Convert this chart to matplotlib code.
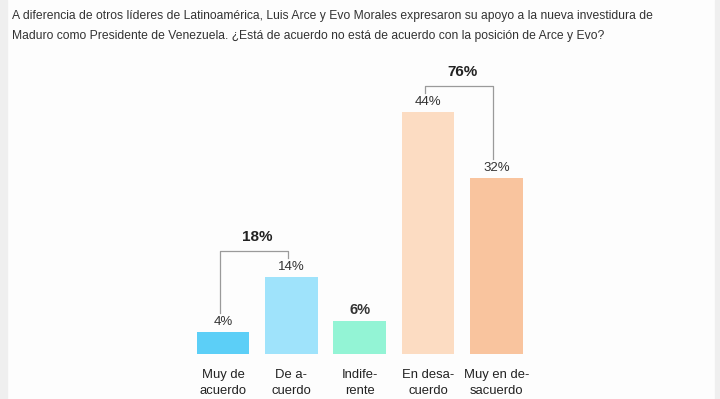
import matplotlib
matplotlib.use("Agg")
import matplotlib.pyplot as plt
from matplotlib.patches import Rectangle
from matplotlib import font_manager

plt.rcParams['font.family'] = ['Liberation Sans', 'DejaVu Sans']

title = ("A diferencia de otros líderes de Latinoamérica, Luis Arce y Evo Morales expresaron su apoyo a la nueva investidura de\n"
         "Maduro como Presidente de Venezuela. ¿Está de acuerdo no está de acuerdo con la posición de Arce y Evo?")
categories = ["Muy de\nacuerdo", "De a-\ncuerdo", "Indife-\nrente", "En desa-\ncuerdo", "Muy en de-\nsacuerdo"]
values = [4, 14, 6, 44, 32]
value_labels = ["4%", "14%", "6%", "44%", "32%"]
colors = ["#5ccff7", "#9fe3fb", "#93f4d5", "#fcdcc2", "#f9c49e"]
groups = [(0, 1, "18%"), (3, 4, "76%")]

names = {f.name for f in font_manager.fontManager.ttflist}
if "Liberation Sans Narrow" in names:
    cat_family, cat_size, cat_ls = ["Liberation Sans Narrow", "Liberation Sans"], 10.3, 1.2
else:
    cat_family, cat_size, cat_ls = ["Liberation Sans", "DejaVu Sans"], 9.4, 1.5

W, H = 720, 399
fig = plt.figure(figsize=(W / 100, H / 100), dpi=100)
fig.patch.set_facecolor("#fdfdfd")
fig.add_artist(Rectangle((0, 0), 7 / W, 1, transform=fig.transFigure, color="#efefef", zorder=0))
fig.add_artist(Rectangle((1 - 5 / W, 0), 5 / W, 1, transform=fig.transFigure, color="#efefef", zorder=0))

fig.text(12 / W, 1 - 10 / H, title, ha="left", va="top", fontsize=8.75, color="#333333", linespacing=1.9)

step = 68.375
left_px = 223 - 0.5 * step
ax = fig.add_axes([left_px / W, (H - 354) / H, 5 * step / W, 275 / H])
ax.set_xlim(-0.5, 4.5)
ax.set_ylim(0, 50)
ax.axis("off")

x = list(range(len(values)))
ax.bar(x, values, width=0.77, color=colors, zorder=2)

for i, (v, lab) in enumerate(zip(values, value_labels)):
    bold = (i == 2)
    ax.annotate(lab, (i, v), xytext=(0, 3), textcoords="offset points",
                ha="center", va="bottom", fontsize=10.5 if bold else 9.5,
                fontweight="bold" if bold else "normal", color="#333333")
    ax.annotate(categories[i], (i, 0), xytext=(0, -10.5), textcoords="offset points",
                ha="center", va="top", fontsize=cat_size, family=cat_family,
                color="#222222", linespacing=cat_ls, annotation_clip=False)

for a, b, lab in groups:
    top = max(values[a], values[b]) + 4.7
    xa, xb = a - 0.045, b - 0.045
    ax.plot([xa, xa, xb, xb], [values[a] + 3.5, top, top, values[b] + 3.5],
            color="#9a9a9a", lw=0.9, clip_on=False, zorder=3)
    ax.text((a + b) / 2, top + 2.5, lab, ha="center", va="center",
            fontsize=11, fontweight="bold", color="#222222", clip_on=False)

fig.savefig("out.png", dpi=100, facecolor=fig.get_facecolor())
